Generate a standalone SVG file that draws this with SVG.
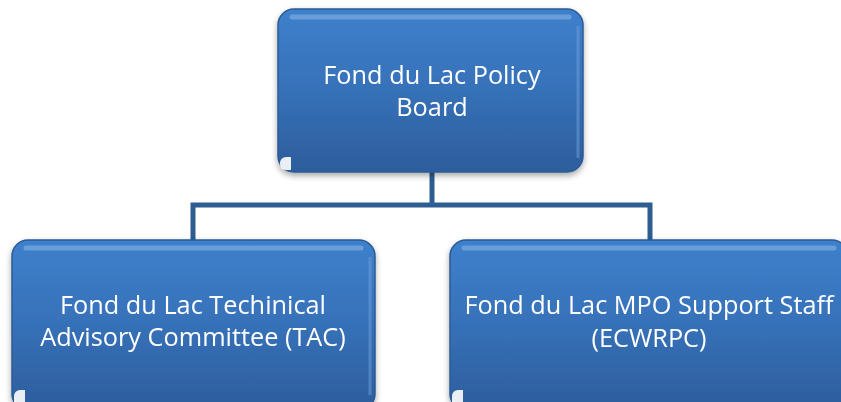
<svg xmlns="http://www.w3.org/2000/svg" width="841" height="402" viewBox="0 0 841 402">
<style>
.box{fill:url(#g);stroke:#2b5b94;stroke-width:1.5}
.hl{fill:none;stroke:#8fb8e8;stroke-width:5;stroke-linecap:round;opacity:.55}
.rim{fill:none;stroke:#6fa0dc;stroke-width:3;opacity:.5}
.t{font-family:"Open Sans","Liberation Sans",sans-serif;font-size:25.3px;fill:#ffffff;text-anchor:middle}
.c{fill:none;stroke:#2e5d92;stroke-width:5}
</style>
<defs>
<linearGradient id="g" x1="0" y1="0" x2="0" y2="1">
<stop offset="0" stop-color="#3e80cc"/>
<stop offset="0.5" stop-color="#3671b8"/>
<stop offset="1" stop-color="#2d5d9c"/>
</linearGradient>
<filter id="sh" x="-10%" y="-10%" width="120%" height="130%">
<feGaussianBlur in="SourceAlpha" stdDeviation="3"/>
<feOffset dx="0" dy="3" result="b"/>
<feComponentTransfer><feFuncA type="linear" slope="0.35"/></feComponentTransfer>
<feMerge><feMergeNode/><feMergeNode in="SourceGraphic"/></feMerge>
</filter>
</defs>
<g id="connectors">
<path class="c" d="M432 172 V205 M193 240 V205 H650 V240"/>
</g>
<g id="policy-board" filter="url(#sh)">
<rect class="box" x="278" y="9" width="305" height="163" rx="16"/>
<path class="hl" d="M292 17 H569"/>
<path class="rim" d="M578 26 V158"/>
<path d="M280 163 A6 6 0 0 1 286 157 H291 V170 H286 A6 6 0 0 1 280 164 Z" fill="#ffffff" opacity="0.9"/>
<text class="t" x="432" y="84">Fond du Lac Policy</text>
<text class="t" x="432" y="116">Board</text>
</g>
<g id="tac" filter="url(#sh)">
<rect class="box" x="12" y="240" width="363" height="170" rx="16"/>
<path class="hl" d="M26 248 H361"/>
<path class="rim" d="M370 257 V395"/>
<path d="M14 396 A6 6 0 0 1 20 390 H25 V403 H14 Z" fill="#ffffff" opacity="0.9"/>
<text class="t" x="193" y="314">Fond du Lac Techinical</text>
<text class="t" x="193" y="346">Advisory Committee (TAC)</text>
</g>
<g id="support-staff" filter="url(#sh)">
<rect class="box" x="450" y="240" width="398" height="170" rx="16"/>
<path class="hl" d="M464 248 H834"/>
<path d="M452 396 A6 6 0 0 1 458 390 H463 V403 H452 Z" fill="#ffffff" opacity="0.9"/>
<text class="t" x="649" y="314">Fond du Lac MPO Support Staff</text>
<text class="t" x="649" y="347">(ECWRPC)</text>
</g>
</svg>
